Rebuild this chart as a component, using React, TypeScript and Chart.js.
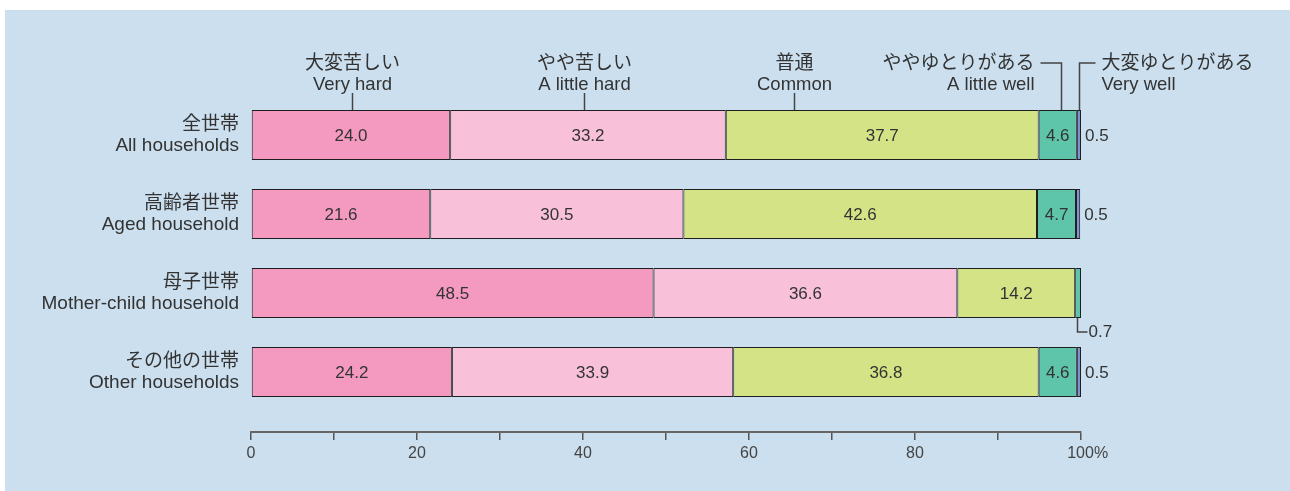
import React, { useEffect, useRef } from 'react';
import { Chart, registerables } from 'chart.js';

Chart.register(...registerables);

// ---- data ----
const categories: string[][] = [
  ['全世帯', 'All households'],
  ['高齢者世帯', 'Aged household'],
  ['母子世帯', 'Mother-child household'],
  ['その他の世帯', 'Other households'],
];
const seriesNames: string[][] = [
  ['大変苦しい', 'Very hard'],
  ['やや苦しい', 'A little hard'],
  ['普通', 'Common'],
  ['ややゆとりがある', 'A little well'],
  ['大変ゆとりがある', 'Very well'],
];
const veryHard = [24.0, 21.6, 48.5, 24.2];
const littleHard = [33.2, 30.5, 36.6, 33.9];
const common = [37.7, 42.6, 14.2, 36.8];
const littleWell = [4.6, 4.7, 0.7, 4.6];
const veryWell = [0.5, 0.5, 0, 0.5];
const xTickLabels = [0, 20, 40, 60, 80, 100];

// ---- styles ----
const colors = ['#f49ac1', '#f8c1d9', '#d4e386', '#5ec4aa', '#7f93d1'];
const FONT = '"Liberation Sans", "Noto Sans CJK JP", sans-serif';
const TEXT = '#333333';

// header annotation anchors (in x-axis units) and styles
const headerNotes = [
  { at: 12.2, kind: 'center' },
  { at: 40.1, kind: 'center' },
  { at: 65.4, kind: 'center' },
  { at: 97.6, kind: 'elbowLeft', arm: 21 },
  { at: 99.75, kind: 'elbowRight', arm: 16 },
];

const labelPlugin = {
  id: 'valueLabels',
  afterDatasetsDraw(chart: any) {
    const ctx: CanvasRenderingContext2D = chart.ctx;
    const xs = chart.scales.x;
    const area = chart.chartArea;
    ctx.save();
    ctx.fillStyle = TEXT;
    ctx.strokeStyle = '#444';
    ctx.lineWidth = 1.5;

    chart.data.datasets.forEach((ds: any, di: number) => {
      const meta = chart.getDatasetMeta(di);
      meta.data.forEach((el: any, i: number) => {
        const v = ds.data[i];
        if (!v) return;
        const { x, base, y, height } = el.getProps(['x', 'base', 'y', 'height'], true);
        const text = v.toFixed(1);
        ctx.font = '17px ' + FONT;
        ctx.textBaseline = 'middle';
        if (v >= 2) {
          ctx.textAlign = 'center';
          ctx.fillText(text, (x + base) / 2, y + 1);
        } else if (di === chart.data.datasets.length - 1) {
          ctx.textAlign = 'left';
          ctx.fillText(text, x + 4, y + 1);
        } else {
          const cx = Math.round((x + base) / 2) - 0.5;
          const yb = y + height / 2;
          ctx.beginPath();
          ctx.moveTo(cx, yb);
          ctx.lineTo(cx, yb + 14);
          ctx.lineTo(cx + 10, yb + 14);
          ctx.stroke();
          ctx.textAlign = 'left';
          ctx.fillText(text, cx + 11, yb + 14);
        }
      });
    });

    // header annotations over the first bar
    const first = chart.getDatasetMeta(0).data[0];
    const barTop = first.getProps(['y', 'height'], true);
    const topY = barTop.y - barTop.height / 2;
    const jpY = area.top - 32;
    const enY = area.top - 11;
    headerNotes.forEach((n, k) => {
      const px = Math.round(xs.getPixelForValue(n.at)) + 0.5;
      const [jp, en] = seriesNames[k];
      const jpFont = '19px ' + FONT;
      const enFont = '18.5px ' + FONT;
      ctx.textBaseline = 'middle';
      ctx.fillStyle = TEXT;
      ctx.beginPath();
      let tx = px;
      if (n.kind === 'center') {
        ctx.textAlign = 'center';
        ctx.moveTo(px, area.top - 2.5);
        ctx.lineTo(px, topY);
      } else if (n.kind === 'elbowLeft') {
        const lineY = jpY - 0.5;
        ctx.moveTo(px, topY);
        ctx.lineTo(px, lineY);
        ctx.lineTo(px - (n.arm as number), lineY);
        ctx.textAlign = 'right';
        tx = px - (n.arm as number) - 6;
      } else {
        const lineY = jpY - 0.5;
        ctx.moveTo(px, topY);
        ctx.lineTo(px, lineY);
        ctx.lineTo(px + (n.arm as number), lineY);
        ctx.textAlign = 'left';
        tx = px + (n.arm as number) + 6;
      }
      ctx.stroke();
      ctx.font = jpFont;
      ctx.fillText(jp, tx, jpY);
      ctx.font = enFont;
      ctx.fillText(en, tx, enY);
    });
    ctx.restore();
  },
};

export default function App() {
  const ref = useRef<HTMLCanvasElement | null>(null);

  useEffect(() => {
    document.body.style.margin = '0';
    const canvas = ref.current;
    if (!canvas) return;
    const series = [veryHard, littleHard, common, littleWell, veryWell];
    const chart = new Chart(canvas, {
      type: 'bar',
      data: {
        labels: categories,
        datasets: series.map((d, k) => ({
          label: seriesNames[k].join(' '),
          data: d,
          backgroundColor: colors[k],
          borderColor: '#1e1e1e',
          borderWidth: 1,
          borderSkipped: false,
          categoryPercentage: 1,
          barPercentage: 50 / 79,
        })),
      },
      options: {
        indexAxis: 'y',
        animation: false,
        responsive: false,
        devicePixelRatio: 1,
        layout: { padding: { left: 0, right: 209, top: 95.5, bottom: 79.5 } },
        plugins: {
          legend: { display: false },
          tooltip: { enabled: false },
          title: { display: false },
        },
        scales: {
          x: {
            type: 'linear',
            stacked: true,
            min: 0,
            max: 100,
            position: { y: 3.76 } as any,
            border: { display: true, color: '#666', width: 2 },
            grid: {
              display: true,
              drawOnChartArea: false,
              drawTicks: true,
              tickLength: 7,
              color: '#555',
              lineWidth: 1.5,
            },
            ticks: {
              stepSize: 10,
              autoSkip: false,
              maxRotation: 0,
              padding: 5,
              color: '#444',
              font: { size: 16, family: FONT },
              callback: (v: any) =>
                xTickLabels.includes(Number(v)) ? (Number(v) === 100 ? '   100%' : String(v)) : '',
            },
          },
          y: {
            type: 'category',
            stacked: true,
            position: 'left',
            grid: { display: false, drawTicks: false },
            border: { display: false },
            ticks: {
              padding: 12,
              color: TEXT,
              font: { size: 19, family: FONT, lineHeight: 1.1 },
            },
            afterFit: (s: any) => {
              s.width = 251;
            },
          },
        },
      },
      plugins: [labelPlugin],
    } as any);
    return () => chart.destroy();
  }, []);

  return (
    <div style={{ position: 'relative', width: 1290, height: 491, overflow: 'hidden' }}>
      <div
        style={{
          position: 'absolute',
          left: 5,
          top: 10,
          right: 0,
          bottom: 0,
          background: '#cbdfee',
        }}
      />
      <canvas
        ref={ref}
        width={1290}
        height={491}
        style={{ position: 'absolute', left: 0, top: 0, width: 1290, height: 491, display: 'block' }}
      />
    </div>
  );
}
